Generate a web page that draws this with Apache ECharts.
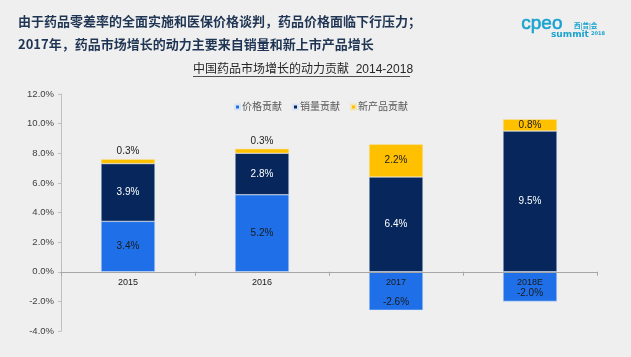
<!DOCTYPE html>
<html><head><meta charset="utf-8">
<script src="https://cdn.jsdelivr.net/npm/echarts@6/dist/echarts.min.js"></script>
<style>html,body{margin:0;padding:0;background:#efefef}#c{width:631px;height:357px}</style>
</head><body><div id="c"></div>
<script>
const categories = ['2015', '2016', '2017', '2018E'];
const priceContribution = [3.4, 5.2, -2.6, -2.0];
const volumeContribution = [3.9, 2.8, 6.4, 9.5];
const newProductContribution = [0.3, 0.3, 2.2, 0.8];
const yTicks = [-4, -2, 0, 2, 4, 6, 8, 10, 12];
const seriesNames = ['价格贡献', '销量贡献', '新产品贡献'];

const font = '"Liberation Sans", Arial, "Noto Sans CJK SC", sans-serif';
const chart = echarts.init(document.getElementById('c'));
const fmt = p => p.value.toFixed(1) + '%';
const gridTop = 94, gridBottom = 26, H = 357;
const yMin = yTicks[0], yMax = yTicks[yTicks.length - 1];
const plotH = H - gridTop - gridBottom;
const zeroOffset = -plotH * (0 - yMin) / (yMax - yMin);
chart.setOption({
  backgroundColor: '#efefef',
  animation: false,
  textStyle: { fontFamily: font },
  grid: { left: 61, right: 34, top: gridTop, bottom: gridBottom },
  legend: {
    top: 97, left: 229, itemWidth: 5, itemHeight: 5, itemGap: 10,
    icon: 'rect',
    textStyle: { fontSize: 10, color: '#595959', fontFamily: font, padding: [0, 0, 0, -3] },
    data: seriesNames
  },
  xAxis: {
    type: 'category', data: categories,
    offset: zeroOffset, z: 10,
    axisLine: { onZero: false, lineStyle: { color: '#a6a6a6' } },
    axisTick: { show: true, alignWithLabel: false, length: 4, lineStyle: { color: '#a6a6a6' } },
    axisLabel: { color: '#1a1a1a', fontSize: 9, margin: 6, interval: 0 }
  },
  yAxis: {
    type: 'value', min: yMin, max: yMax, interval: 2,
    axisLine: { show: true, lineStyle: { color: '#bfbfbf' } },
    axisTick: { show: true, length: 3, lineStyle: { color: '#bfbfbf' } },
    splitLine: { show: false },
    axisLabel: { color: '#404040', fontSize: 9.5, margin: 7, formatter: v => v.toFixed(1) + '%' }
  },
  series: [
    {
      name: seriesNames[0], type: 'bar', stack: 'total', barWidth: 54,
      data: priceContribution.map(v => ({
        value: v,
        label: v < 0 ? { position: 'insideBottom', distance: 3 } : { position: 'inside' }
      })),
      itemStyle: { color: '#1f70e8', borderColor: '#d9e4f5', borderWidth: 0.5 },
      label: { show: true, color: '#1a1a1a', fontSize: 10, formatter: fmt }
    },
    {
      name: seriesNames[1], type: 'bar', stack: 'total', barWidth: 54,
      data: volumeContribution,
      itemStyle: { color: '#07275c', borderColor: '#d9e4f5', borderWidth: 0.5 },
      label: { show: true, position: 'inside', color: '#ffffff', fontSize: 10, formatter: fmt }
    },
    {
      name: seriesNames[2], type: 'bar', stack: 'total', barWidth: 54,
      data: newProductContribution.map(v => ({
        value: v,
        label: v < 0.5 ? { position: 'top', distance: 3 } : { position: 'inside' }
      })),
      itemStyle: { color: '#ffc000', borderColor: '#f5e6b0', borderWidth: 0.5 },
      label: { show: true, color: '#1a1a1a', fontSize: 10, formatter: fmt }
    }
  ],
  graphic: [
    { type: 'text', left: 18, top: 15, style: { text: '由于药品零差率的全面实施和医保价格谈判，药品价格面临下行压力；', font: 'bold 13px "Noto Sans CJK SC"', fill: '#1f3553' } },
    { type: 'text', left: 18, top: 38, style: { text: '2017年，药品市场增长的动力主要来自销量和新上市产品增长', font: 'bold 13px "Noto Sans CJK SC"', fill: '#1f3553' } },
    { type: 'text', left: 193, top: 64, style: { text: '中国药品市场增长的动力贡献  2014-2018', font: '12px "Liberation Sans", "Noto Sans CJK SC"', fill: '#262626' } },
    { type: 'line', shape: { x1: 193, y1: 76.5, x2: 410, y2: 76.5 }, style: { stroke: '#262626', lineWidth: 0.8 } },
    { type: 'text', left: 521, top: 14, style: { text: 'cpeo', font: '19px "Liberation Sans"', fill: '#1aa3cf', stroke: '#1aa3cf', lineWidth: 0.6 } },
    { type: 'text', left: 574, top: 22, style: { text: '西|普|会', font: 'bold 6.5px "Noto Sans CJK SC"', fill: '#1aa3cf' } },
    { type: 'text', left: 551, top: 30, style: { text: 'summit', font: 'bold 9px "DejaVu Sans"', fill: '#1aa3cf' } },
    { type: 'text', left: 591, top: 31, style: { text: '2018', font: 'bold 5px "DejaVu Sans"', fill: '#1aa3cf' } }
  ]
});
</script></body></html>
